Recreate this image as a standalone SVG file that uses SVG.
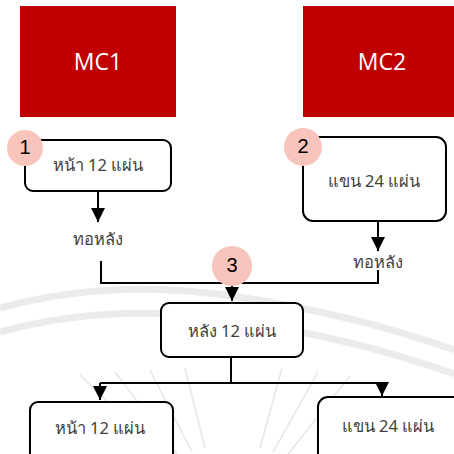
<svg xmlns="http://www.w3.org/2000/svg" width="454" height="454" viewBox="0 0 454 454">
<defs>
<style>
.mc{fill:#C00000}
.mct{fill:#fff;font-family:"Open Sans","Noto Sans",sans-serif;font-size:23px;text-anchor:middle;dominant-baseline:central}
.box{fill:#fff;stroke:#000;stroke-width:2}
.t{fill:#404040;font-family:"Noto Sans","DejaVu Sans",sans-serif;font-size:16.5px;text-anchor:middle;dominant-baseline:central}
.num{fill:#F8C4BC}
.nt{fill:#000;font-family:"Liberation Sans",Arial,sans-serif;font-size:20px;text-anchor:middle;dominant-baseline:central}
.ln{fill:none;stroke:#000;stroke-width:2}
.wm{fill:none;stroke:#ebebeb}
.ray{stroke:#e6e6e6;stroke-width:1.5}
</style>
<marker id="ah" viewBox="0 0 10 10" refX="10" refY="5" markerWidth="14" markerHeight="14" markerUnits="userSpaceOnUse" orient="auto">
<path d="M0,0 L10,5 L0,10 z" fill="#000"/>
</marker>
</defs>
<g id="watermark">
<path class="wm" stroke-width="7" d="M0,308 Q110,278 232,296 T454,350"/>
<path class="wm" stroke-width="7" d="M0,332 Q110,302 232,320 T454,374"/>
<g class="ray">
<line x1="172" y1="465" x2="80" y2="375"/>
<line x1="180" y1="458" x2="115" y2="372"/>
<line x1="192" y1="452" x2="150" y2="370"/>
<line x1="205" y1="448" x2="185" y2="368"/>
<line x1="260" y1="448" x2="282" y2="368"/>
<line x1="273" y1="452" x2="318" y2="372"/>
<line x1="285" y1="458" x2="350" y2="376"/>
</g>
</g>
<g id="mc1"><rect class="mc" x="20" y="6" width="156" height="111"/><text class="mct" x="98" y="61">MC1</text></g>
<g id="mc2"><rect class="mc" x="303" y="6" width="160" height="111"/><text class="mct" x="382" y="61">MC2</text></g>
<g id="connectors">
<line class="ln" x1="98" y1="191" x2="98" y2="222" marker-end="url(#ah)"/>
<line class="ln" x1="378" y1="221" x2="378" y2="251" marker-end="url(#ah)"/>
<polyline class="ln" points="101,261 101,283 378,283 378,270"/>
<line class="ln" x1="232" y1="283" x2="232" y2="301" marker-end="url(#ah)"/>
<line class="ln" x1="231" y1="357" x2="231" y2="383"/>
<polyline class="ln" points="100,383 382,383 382,396" marker-end="url(#ah)"/>
<line class="ln" x1="100" y1="383" x2="100" y2="400" marker-end="url(#ah)"/>
</g>
<g id="n1"><rect class="box" x="25" y="140" width="146" height="51" rx="8"/><text class="t" x="98" y="164">หน้า 12 แผ่น</text></g>
<g id="n2"><rect class="box" x="303" y="137" width="143" height="84" rx="10"/><text class="t" x="374" y="180">แขน 24 แผ่น</text></g>
<g id="l1"><text class="t" x="98" y="238">ทอหลัง</text></g>
<g id="l2"><text class="t" x="378" y="261">ทอหลัง</text></g>
<g id="n3"><rect class="box" x="161" y="303" width="142" height="54" rx="8"/><text class="t" x="232" y="330">หลัง 12 แผ่น</text></g>
<g id="n4"><rect class="box" x="30" y="402" width="143" height="62" rx="8"/><text class="t" x="100" y="427">หน้า 12 แผ่น</text></g>
<g id="n5"><rect class="box" x="318" y="397" width="150" height="67" rx="10"/><text class="t" x="388" y="425">แขน 24 แผ่น</text></g>
<g id="c1"><circle class="num" cx="25" cy="148" r="18"/><text class="nt" x="25" y="147">1</text></g>
<g id="c2"><circle class="num" cx="303" cy="147" r="19"/><text class="nt" x="303" y="146">2</text></g>
<g id="c3"><circle class="num" cx="232" cy="266" r="20"/><text class="nt" x="232" y="265">3</text></g>
</svg>
